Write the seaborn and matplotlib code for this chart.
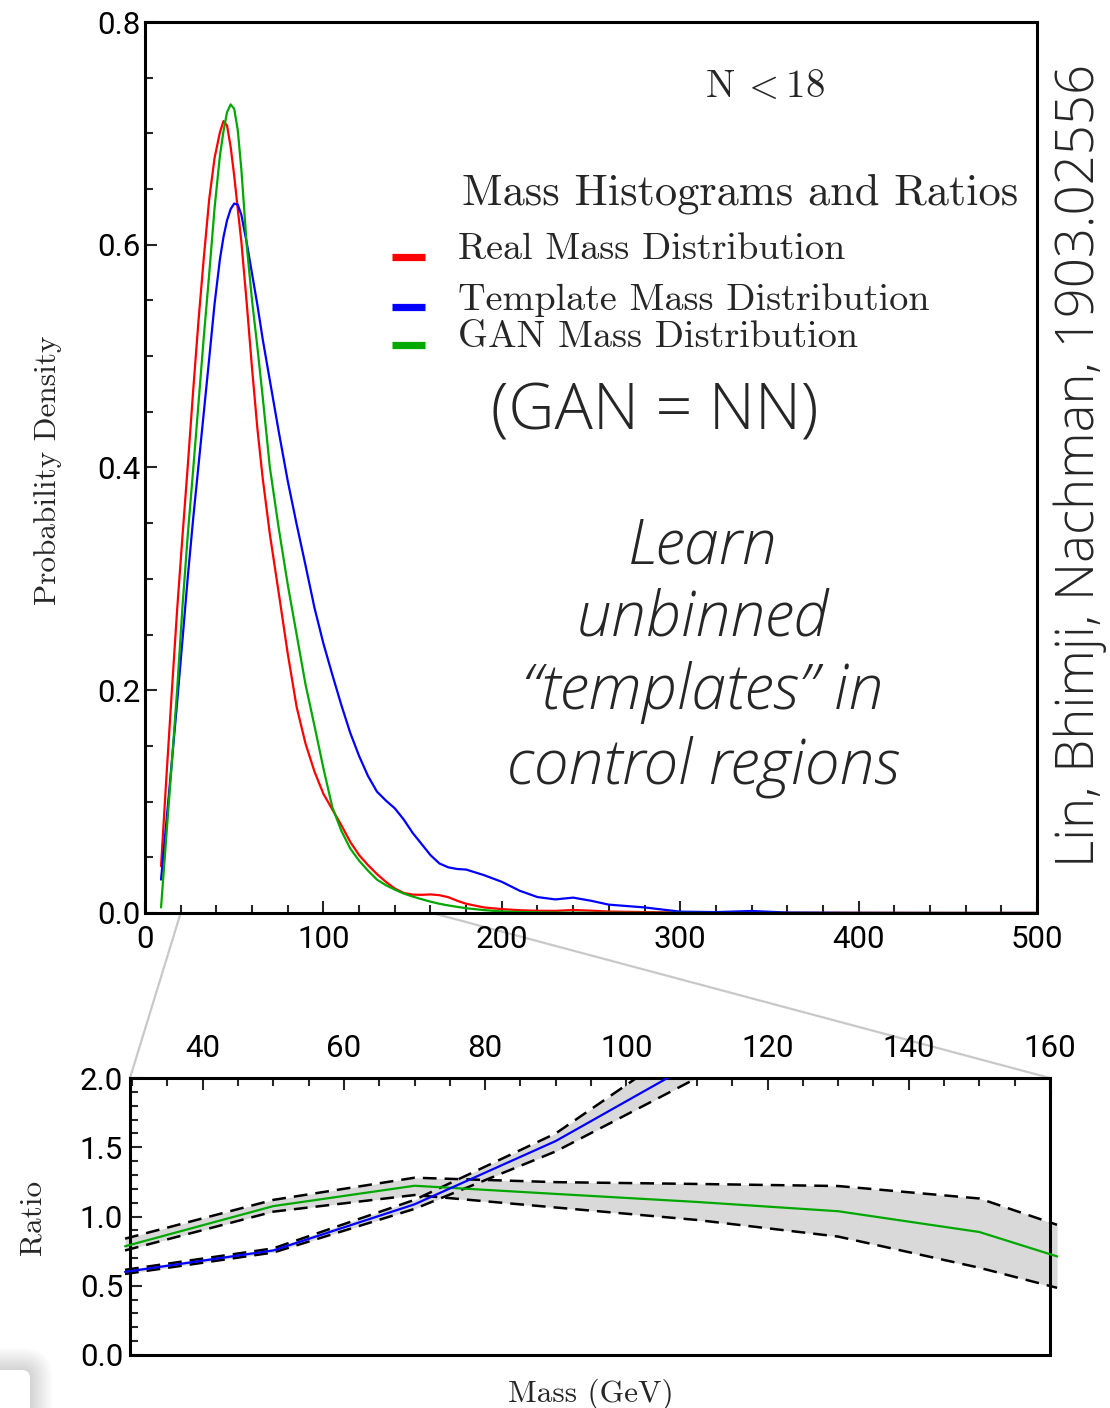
import matplotlib
matplotlib.use("Agg")
import matplotlib.pyplot as plt
import matplotlib.patches as mpatches
from matplotlib.patches import ConnectionPatch, FancyBboxPatch
from matplotlib.lines import Line2D
from matplotlib.ticker import MultipleLocator
import pandas as pd
import seaborn as sns

# ---------------------------------------------------------------- data
# smoothed mass densities (probability density vs. mass in GeV)
mass = [9, 12, 15, 18, 21, 24, 27, 30, 33, 36, 39, 42, 44, 46, 48, 50, 52, 54,
        57, 60, 63, 66, 70, 75, 80, 85, 90, 95, 100, 105, 110, 115, 120, 125,
        130, 135, 140, 145, 150, 155, 160, 165, 170, 175, 180, 190, 200, 210,
        220, 230, 240, 250, 260, 280, 300, 320, 340, 360, 400, 450, 500]
real_density = [0.042, 0.122, 0.198, 0.272, 0.338, 0.402, 0.469, 0.532, 0.589,
                0.641, 0.678, 0.701, 0.711, 0.707, 0.688, 0.662, 0.632, 0.603,
                0.548, 0.489, 0.435, 0.390, 0.340, 0.287, 0.233, 0.185, 0.152,
                0.127, 0.107, 0.093, 0.079, 0.064, 0.052, 0.043, 0.035, 0.028,
                0.022, 0.018, 0.0165, 0.0163, 0.0167, 0.016, 0.0142, 0.011,
                0.0083, 0.005, 0.0035, 0.0025, 0.002, 0.0019, 0.0027, 0.0021,
                0.0013, 0.0008, 0.0005, 0.0004, 0.0003, 0.0002, 0.0002, 0.0001,
                0.0001]
template_density = [0.030, 0.082, 0.135, 0.189, 0.245, 0.302, 0.354, 0.402,
                    0.450, 0.498, 0.547, 0.587, 0.607, 0.622, 0.632, 0.637,
                    0.636, 0.627, 0.602, 0.574, 0.546, 0.515, 0.478, 0.432,
                    0.388, 0.349, 0.312, 0.274, 0.242, 0.214, 0.187, 0.162,
                    0.141, 0.123, 0.109, 0.101, 0.094, 0.084, 0.072, 0.062,
                    0.052, 0.0445, 0.041, 0.0395, 0.039, 0.034, 0.028, 0.020,
                    0.0143, 0.0122, 0.0138, 0.011, 0.0075, 0.005, 0.0012,
                    0.0008, 0.0018, 0.0004, 0.0001, 0.0, 0.0]
gan_density = [0.005, 0.070, 0.134, 0.200, 0.275, 0.340, 0.398, 0.458, 0.518,
               0.574, 0.633, 0.680, 0.702, 0.719, 0.726, 0.722, 0.703, 0.668,
               0.600, 0.550, 0.508, 0.463, 0.400, 0.345, 0.295, 0.250, 0.205,
               0.168, 0.130, 0.095, 0.074, 0.058, 0.047, 0.038, 0.030, 0.025,
               0.021, 0.0175, 0.0148, 0.0124, 0.0102, 0.0083, 0.0068, 0.0055,
               0.0043, 0.0026, 0.0014, 0.0009, 0.0006, 0.0004, 0.0003, 0.0002,
               0.0002, 0.0001, 0.0001, 0.0, 0.0, 0.0, 0.0, 0.0, 0.0]

# ratios in the zoomed mass window, with uncertainty bands
ratio_mass = [29, 50, 70, 90, 110, 130, 150, 161]
gan_ratio = [0.785, 1.075, 1.222, 1.163, 1.105, 1.038, 0.888, 0.712]
gan_ratio_lo = [0.755, 1.035, 1.155, 1.065, 0.975, 0.855, 0.630, 0.485]
gan_ratio_hi = [0.840, 1.120, 1.280, 1.248, 1.235, 1.220, 1.130, 0.940]

tmpl_ratio_mass = [29, 50, 70, 90, 110]
tmpl_ratio = [0.600, 0.755, 1.088, 1.545, 2.120]
tmpl_ratio_lo = [0.585, 0.740, 1.055, 1.470, 2.000]
tmpl_ratio_hi = [0.615, 0.770, 1.120, 1.600, 2.300]

samples = ["Real", "Template", "GAN"]
legend_labels = ["Real Mass Distribution", "Template Mass Distribution",
                 "GAN Mass Distribution"]
colors = {"Real": "#ff0000", "Template": "#0000ff", "GAN": "#00a800"}

# ---------------------------------------------------------------- style
sns.set_style("ticks")
plt.rcParams.update({
    "font.family": ["Roboto", "DejaVu Sans"],
    "mathtext.fontset": "cm",
    "axes.linewidth": 2.2,
    "axes.edgecolor": "black",
})
SANS = ["Open Sans", "Roboto", "DejaVu Sans"]

W, H = 1110, 1408
fig = plt.figure(figsize=(W / 100, H / 100), dpi=100)
fig.patch.set_facecolor("white")


def fx(px):
    return px / W


def fy(py):
    return 1 - py / H


ax = fig.add_axes([fx(145), fy(913), 892 / W, 891 / H])
ax2 = fig.add_axes([fx(130), fy(1355), 920 / W, 277 / H])

# ---------------------------------------------------------------- densities
df = pd.DataFrame({"mass": mass, "Real": real_density,
                   "Template": template_density, "GAN": gan_density})
long = df.melt(id_vars="mass", var_name="sample", value_name="density")
sns.lineplot(data=long, x="mass", y="density", hue="sample",
             hue_order=samples, palette=colors, estimator=None, sort=False,
             lw=1.6, legend=False, ax=ax)

ax.set_xlim(0, 500)
ax.set_ylim(0, 0.8)
ax.set_xlabel("")
ax.set_ylabel("")
ax.xaxis.set_major_locator(MultipleLocator(100))
ax.xaxis.set_minor_locator(MultipleLocator(20))
ax.yaxis.set_major_locator(MultipleLocator(0.2))
ax.yaxis.set_minor_locator(MultipleLocator(0.05))
ax.tick_params(which="both", direction="in", top=False, right=False,
               width=1.5, labelsize=22.5, labelcolor="black")
ax.tick_params(which="major", length=8.5)
ax.tick_params(which="minor", length=5.5)
ax.tick_params(axis="x", pad=9)
ax.tick_params(axis="y", pad=3)
for s in ax.spines.values():
    s.set_visible(True)
    s.set_linewidth(2.2)

# legend drawn as keys plus labels
fig.text(fx(462), fy(205), "Mass Histograms and Ratios", family="cmr10",
         fontsize=32, ha="left", va="baseline")
key_y = [257, 307, 345]
lab_y = [259, 310, 347]
for smp, lab, ky, ly in zip(samples, legend_labels, key_y, lab_y):
    fig.add_artist(Line2D([fx(392), fx(425)], [fy(ky), fy(ky)],
                          color=colors[smp], lw=5.2, solid_capstyle="butt"))
    fig.text(fx(458), fy(ly), lab, family="cmr10", fontsize=27.5,
             ha="left", va="baseline")

fig.text(fx(705), fy(97), r"$\mathrm{N}\:<18$", fontsize=28,
         ha="left", va="baseline")

fig.text(fx(655), fy(413), "(GAN = NN)", family=SANS, fontsize=46,
         fontweight="light", ha="center", va="center")
for line, by in zip(["Learn", "unbinned", "\u201ctemplates\u201d in",
                     "control regions"], [563, 636, 709, 783]):
    fig.text(fx(703), fy(by), line, family=SANS, fontsize=45,
             fontweight="light", style="italic", ha="center", va="baseline")

fig.text(fx(1094), fy(465), "Lin, Bhimji, Nachman, 1903.02556", family=SANS,
         fontsize=38, fontweight="light", rotation=90, rotation_mode="anchor",
         ha="center", va="baseline")

fig.text(fx(48), fy(470), "Probability Density", family="cmr10",
         fontsize=22.5, rotation=90, ha="center", va="center")

# ---------------------------------------------------------------- ratios
clip = mpatches.Rectangle((-0.02, 0), 1.04, 1, transform=ax2.transAxes,
                          fc="none", ec="none")
ax2.add_patch(clip)

band_color = "#d9d9d9"
dash = (0, (5.5, 3.2))
ax2.fill_between(ratio_mass, gan_ratio_lo, gan_ratio_hi, color=band_color,
                 lw=0, zorder=1)
ax2.fill_between(tmpl_ratio_mass, tmpl_ratio_lo, tmpl_ratio_hi,
                 color=band_color, lw=0, zorder=1)
for xs, ys in [(ratio_mass, gan_ratio_lo), (ratio_mass, gan_ratio_hi),
               (tmpl_ratio_mass, tmpl_ratio_lo), (tmpl_ratio_mass, tmpl_ratio_hi)]:
    sns.lineplot(x=xs, y=ys, color="black", lw=1.8, ls=dash, ax=ax2,
                 estimator=None, sort=False, zorder=2)
sns.lineplot(x=ratio_mass, y=gan_ratio, color=colors["GAN"], lw=1.6, ax=ax2,
             estimator=None, sort=False, zorder=3)
sns.lineplot(x=tmpl_ratio_mass, y=tmpl_ratio, color=colors["Template"], lw=1.6,
             ax=ax2, estimator=None, sort=False, zorder=3)
for art in list(ax2.lines) + list(ax2.collections):
    art.set_clip_path(clip)

ax2.set_xlim(29.7, 160)
ax2.set_ylim(0, 2)
ax2.set_xlabel("")
ax2.set_ylabel("")
ax2.xaxis.set_major_locator(MultipleLocator(20))
ax2.xaxis.set_minor_locator(MultipleLocator(5))
ax2.yaxis.set_major_locator(MultipleLocator(0.5))
ax2.yaxis.set_minor_locator(MultipleLocator(0.1))
ax2.xaxis.tick_top()
ax2.tick_params(which="both", direction="in", width=1.5, labelsize=22.5,
                labelcolor="black", top=True, bottom=False, labeltop=True,
                labelbottom=False, left=True, right=False)
ax2.tick_params(which="major", length=8.5)
ax2.tick_params(which="minor", length=5.5)
ax2.tick_params(axis="x", pad=11)
ax2.tick_params(axis="y", pad=5)
for s in ax2.spines.values():
    s.set_visible(True)
    s.set_linewidth(2.2)

fig.text(fx(33), fy(1217), "Ratio", family="cmr10", fontsize=22.5,
         rotation=90, ha="center", va="center")
fig.text(fx(591), fy(1402), "Mass (GeV)", family="cmr10", fontsize=22.5,
         ha="center", va="baseline")

# zoom connectors between the two panels
for xa, xb in [(20, 0), (161, 1)]:
    con = ConnectionPatch(xyA=(xa, 0), coordsA=ax.transData,
                          xyB=(xb, 1), coordsB=ax2.transAxes,
                          color="#c8c8c8", lw=1.6, zorder=0)
    fig.add_artist(con)

# small rounded card with a soft shadow in the lower-left corner
for i in range(14):
    pad = (14 - i) * 1.6
    fig.add_artist(FancyBboxPatch((-0.3, -0.3), 0.6, 0.68,
                                  boxstyle=f"round,pad={pad / 100:.3f},rounding_size={(8 + pad) / 100:.3f}",
                                  transform=fig.dpi_scale_trans,
                                  fc="#000000", ec="none", alpha=0.012,
                                  zorder=-1))
fig.add_artist(FancyBboxPatch((-0.3, -0.3), 0.6, 0.68,
                              boxstyle="round,pad=0,rounding_size=0.08",
                              transform=fig.dpi_scale_trans,
                              fc="white", ec="none", zorder=0))

fig.savefig("out.png", dpi=100, facecolor="white")
